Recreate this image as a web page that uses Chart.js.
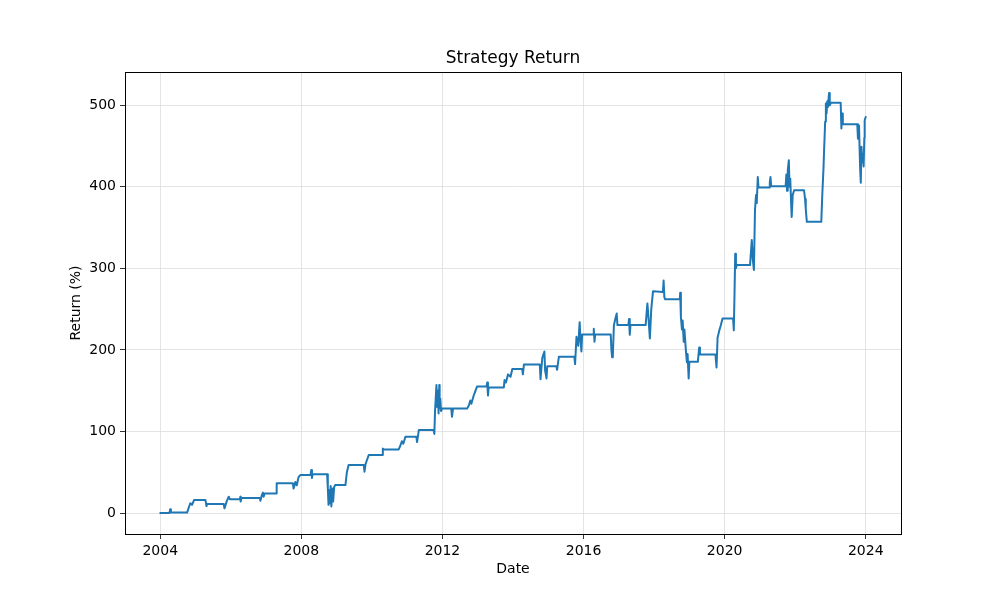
<!DOCTYPE html>
<html>
<head>
<meta charset="utf-8">
<title>Strategy Return</title>
<script src="https://cdn.jsdelivr.net/npm/chart.js@4"></script>
<style>
  body { margin: 0; background: #fff; }
</style>
</head>
<body>
<canvas id="myChart" width="1000" height="600"></canvas>
<script>
// decimal year of each reading
var dates = [
  2004.00, 2004.26, 2004.28, 2004.30, 2004.76, 2004.85, 2004.90, 2004.96, 2005.28, 2005.31,
  2005.33, 2005.80, 2005.82, 2005.88, 2005.94, 2005.97, 2006.26, 2006.27, 2006.28, 2006.30,
  2006.82, 2006.84, 2006.88, 2006.91, 2006.93, 2006.96, 2007.29, 2007.30, 2007.76, 2007.78,
  2007.83, 2007.87, 2007.92, 2007.97, 2008.26, 2008.28, 2008.30, 2008.32, 2008.73, 2008.75,
  2008.77, 2008.79, 2008.81, 2008.83, 2008.85, 2008.88, 2008.90, 2008.93, 2008.96, 2009.25,
  2009.29, 2009.34, 2009.77, 2009.79, 2009.82, 2009.86, 2009.91, 2010.29, 2010.31, 2010.33,
  2010.76, 2010.80, 2010.85, 2010.89, 2010.95, 2011.26, 2011.28, 2011.33, 2011.75, 2011.77,
  2011.79, 2011.83, 2011.85, 2011.87, 2011.89, 2011.91, 2011.92, 2011.94, 2011.96, 2011.99,
  2012.25, 2012.27, 2012.30, 2012.70, 2012.75, 2012.79, 2012.82, 2012.89, 2012.98, 2013.25,
  2013.27, 2013.29, 2013.31, 2013.74, 2013.76, 2013.80, 2013.86, 2013.93, 2013.98, 2014.26,
  2014.28, 2014.31, 2014.76, 2014.78, 2014.83, 2014.89, 2014.91, 2014.95, 2014.97, 2015.23,
  2015.25, 2015.30, 2015.74, 2015.76, 2015.80, 2015.85, 2015.89, 2015.91, 2015.94, 2015.96,
  2016.27, 2016.29, 2016.31, 2016.33, 2016.77, 2016.79, 2016.81, 2016.83, 2016.86, 2016.90,
  2016.94, 2016.96, 2017.27, 2017.29, 2017.31, 2017.33, 2017.76, 2017.81, 2017.84, 2017.88,
  2017.92, 2017.97, 2018.25, 2018.27, 2018.29, 2018.31, 2018.73, 2018.74, 2018.76, 2018.79,
  2018.81, 2018.84, 2018.86, 2018.90, 2018.93, 2018.95, 2018.98, 2019.00, 2019.24, 2019.28,
  2019.30, 2019.74, 2019.77, 2019.80, 2019.85, 2019.89, 2019.94, 2020.24, 2020.26, 2020.28,
  2020.30, 2020.32, 2020.34, 2020.72, 2020.77, 2020.80, 2020.83, 2020.86, 2020.89, 2020.91,
  2020.94, 2020.96, 2021.26, 2021.28, 2021.30, 2021.32, 2021.73, 2021.75, 2021.77, 2021.79,
  2021.82, 2021.84, 2021.86, 2021.90, 2021.93, 2021.97, 2022.25, 2022.28, 2022.30, 2022.33,
  2022.74, 2022.77, 2022.80, 2022.82, 2022.85, 2022.87, 2022.89, 2022.91, 2022.93, 2022.96,
  2022.98, 2023.01, 2023.29, 2023.31, 2023.33, 2023.35, 2023.76, 2023.78, 2023.81, 2023.84,
  2023.86, 2023.88, 2023.90, 2023.92, 2023.94, 2023.96, 2023.97, 2024.00
];

// strategy return in percent at each date
var returns = [
  0, 0, 4.5, 0.5, 0.5, 12, 10, 16, 16, 8.5,
  11, 11, 5.7, 14, 20, 17, 17, 20, 14, 18.4,
  18.4, 15, 22, 25, 20, 24, 24, 36.4, 36.4, 30,
  38, 34, 44, 46.5, 46.5, 52.7, 43, 47.4, 47.4, 30,
  10, 28, 12, 33, 8, 30, 14, 32, 34.3, 34.3,
  50, 58.8, 58.8, 50.6, 60, 65, 71, 71, 79, 78,
  78, 82, 88, 85, 93.5, 93.5, 87, 101.7, 101.7, 97,
  125, 157, 130, 150, 122, 157, 128, 140, 125, 128,
  128, 118, 128, 128, 132, 138, 134, 144.6, 155, 155,
  160, 144, 154, 154, 163, 160, 170, 167, 176.5, 176.5,
  170, 182, 182, 164, 190, 198, 175, 165, 180, 180,
  175.5, 191.5, 191.5, 182.6, 216, 205, 234, 215, 198, 219,
  219, 226, 210, 219, 219, 200, 191, 192, 230, 238,
  244.7, 230.4, 230.4, 237.8, 218.5, 230.4, 230.4, 257, 240, 214,
  250, 272, 271, 285, 265, 262, 262, 270, 240, 225,
  236, 210, 225, 200, 185, 195, 165, 185.4, 185.4, 203,
  194.5, 194.5, 178.5, 215, 224, 230, 238.6, 238.6, 224, 269,
  318, 300, 304, 304, 334.6, 310, 298, 371, 390, 380,
  412, 399, 399, 405, 412, 400.7, 400.7, 415, 395, 420,
  432.6, 400, 410, 363, 390, 395.8, 395.8, 385, 373, 357,
  357, 392, 420, 445, 480, 502, 490, 505, 498, 515,
  500, 503, 503, 471.5, 490, 476.7, 476.7, 459, 475, 424,
  405, 449, 430, 440, 425, 460, 481.6, 485.6
];

var xTicks = [2004, 2008, 2012, 2016, 2020, 2024];
var yTicks = [0, 100, 200, 300, 400, 500];

var points = dates.map(function (d, i) { return { x: d, y: returns[i] }; });

var font = { family: "DejaVu Sans", size: 14 };

// matplotlib style frame round the plot area
var framePlugin = {
  id: 'frame',
  afterDraw: function (chart) {
    var a = chart.chartArea;
    var c = chart.ctx;
    c.save();
    c.strokeStyle = '#000';
    c.lineWidth = 1;
    c.strokeRect(Math.round(a.left) + 0.5, Math.round(a.top) + 0.5,
      Math.round(a.right - a.left), Math.round(a.bottom - a.top));
    c.restore();
  }
};

var ctx = document.getElementById("myChart").getContext('2d');
var myChart = new Chart(ctx, {
  type: 'line',
  data: {
    datasets: [{
      label: 'Strategy Return',
      data: points,
      borderColor: '#1f77b4',
      backgroundColor: '#1f77b4',
      borderWidth: 2,
      borderJoinStyle: 'round',
      borderCapStyle: 'round',
      pointRadius: 0,
      tension: 0,
      fill: false
    }]
  },
  options: {
    responsive: false,
    animation: false,
    layout: { padding: { left: 64, right: 99, top: 0, bottom: 19 } },
    plugins: {
      legend: { display: false },
      tooltip: { enabled: false },
      title: {
        display: true,
        text: 'Strategy Return',
        fullSize: false,
        color: '#000',
        font: { family: "DejaVu Sans", size: 17, weight: 'normal' },
        padding: { top: 48, bottom: 3.6 }
      }
    },
    scales: {
      x: {
        type: 'linear',
        min: 2003.0,
        max: 2025.0,
        afterBuildTicks: function (s) { s.ticks = xTicks.map(function (v) { return { value: v }; }); },
        afterFit: function (s) { s.height = 47; },
        ticks: {
          color: '#000', font: font, maxRotation: 0, autoSkip: false, padding: 4,
          callback: function (v) { return String(v); }
        },
        grid: { color: '#dddddd', lineWidth: 0.8, tickColor: '#000', tickLength: 5 },
        border: { color: '#000', width: 1 },
        title: { display: true, text: 'Date', color: '#000', font: font, padding: { top: 4, bottom: 3 } }
      },
      y: {
        type: 'linear',
        min: -25.75,
        max: 540.75,
        afterBuildTicks: function (s) { s.ticks = yTicks.map(function (v) { return { value: v }; }); },
        afterFit: function (s) { s.width = 61; },
        ticks: { color: '#000', font: font, padding: 4 },
        grid: { color: '#dddddd', lineWidth: 0.8, tickColor: '#000', tickLength: 5 },
        border: { color: '#000', width: 1 },
        title: { display: true, text: 'Return (%)', color: '#000', font: font, padding: { top: 4, bottom: 4 } }
      }
    }
  },
  plugins: [framePlugin]
});
</script>
</body>
</html>
